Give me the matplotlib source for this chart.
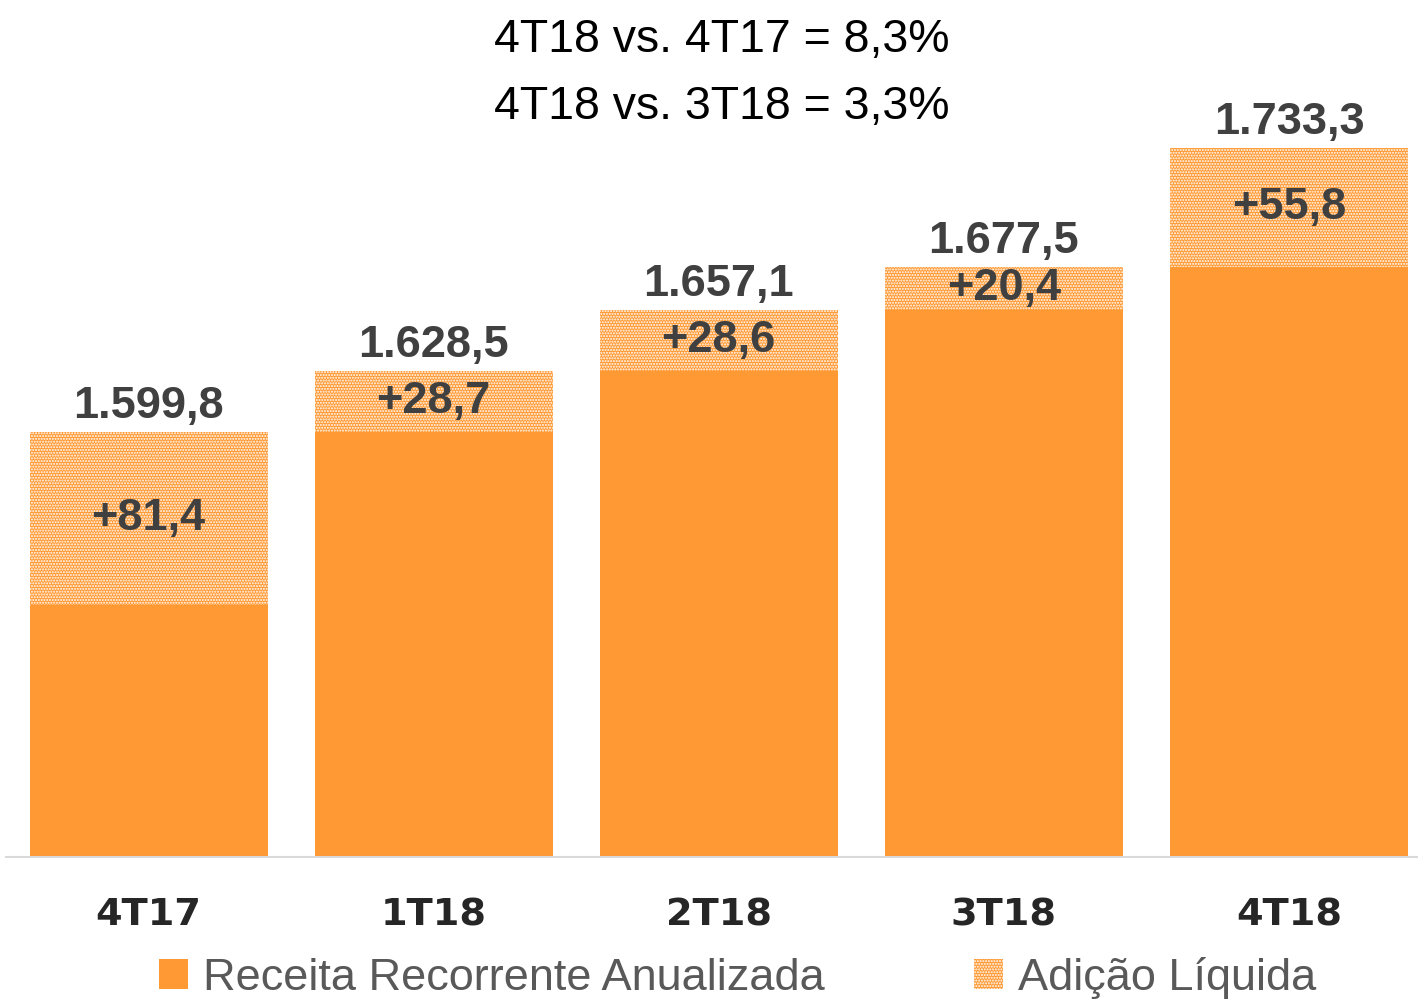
import matplotlib.pyplot as plt
from matplotlib.patches import Patch

# Receita recorrente anualizada por trimestre (R$ mi)
quarters = ["4T17", "1T18", "2T18", "3T18", "4T18"]
totals = [1599.8, 1628.5, 1657.1, 1677.5, 1733.3]
additions = [81.4, 28.7, 28.6, 20.4, 55.8]
total_labels = ["1.599,8", "1.628,5", "1.657,1", "1.677,5", "1.733,3"]
add_labels = ["+81,4", "+28,7", "+28,6", "+20,4", "+55,8"]
headline = ["4T18 vs. 4T17 = 8,3%", "4T18 vs. 3T18 = 3,3%"]
legend_labels = ["Receita Recorrente Anualizada", "Adição Líquida"]

base = [t - a for t, a in zip(totals, additions)]

orange = "#FF9933"
dark = "#404040"

plt.rcParams["hatch.linewidth"] = 1.0
plt.rcParams["hatch.color"] = "white"

fig = plt.figure(figsize=(14.18, 10.05), dpi=100)
ax = fig.add_axes([6 / 1418, 1 - 857 / 1005, 1412 / 1418, 857 / 1005])

x = range(len(quarters))
ymin = 1400
ax.bar(x, [b - ymin for b in base], bottom=ymin, width=0.835, color=orange,
       linewidth=0)
ax.bar(x, additions, bottom=base, width=0.835, color=orange, hatch="......",
       edgecolor="white", linewidth=0)

for i in x:
    ax.annotate(total_labels[i], (i, totals[i]), xytext=(0, 10),
                textcoords="offset points", ha="center", va="baseline",
                fontsize=32.5, fontweight="bold", color=dark,
                family="Liberation Sans")
    ax.text(i, base[i] + additions[i] / 2, add_labels[i], ha="center",
            va="center", fontsize=32.5, fontweight="bold", color=dark,
            family="Liberation Sans")

ax.set_xlim(-0.5, -0.5 + 1412 / 285.1)
ax.set_ylim(ymin, ymin + 857 / 2.127)
ax.set_yticks([])
ax.set_xticks(list(x))
ax.set_xticklabels(quarters, fontsize=27.5, fontweight="bold", color="#262626")
ax.tick_params(axis="x", length=0, pad=29)
for s in ["top", "left", "right"]:
    ax.spines[s].set_visible(False)
ax.spines["bottom"].set_color("#D9D9D9")
ax.spines["bottom"].set_linewidth(1.5)

fig.text(722 / 1418, 1 - 40 / 1005, headline[0], ha="center", va="center",
         fontsize=33.5, family="Liberation Sans", color="black")
fig.text(722 / 1418, 1 - 107 / 1005, headline[1], ha="center", va="center",
         fontsize=33.5, family="Liberation Sans", color="black")

handles = [Patch(facecolor=orange, linewidth=0),
           Patch(facecolor=orange, hatch="......", edgecolor="white", linewidth=0)]
fig.legend(handles, legend_labels, loc="lower center", ncol=2, frameon=False,
           bbox_to_anchor=(0.52, -0.034), handlelength=0.65, handleheight=0.65,
           handletextpad=0.33, columnspacing=3.3,
           prop={"family": "Liberation Sans", "size": 32.5}, labelcolor="#595959")

fig.savefig("out.png", dpi=100)
